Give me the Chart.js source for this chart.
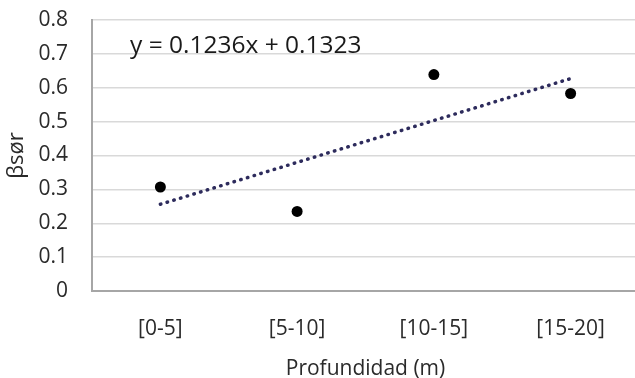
<!DOCTYPE html>
<html>
<head>
<meta charset="utf-8">
<script src="https://cdn.jsdelivr.net/npm/chart.js@4/dist/chart.umd.min.js"></script>
<style>
html,body{margin:0;padding:0;background:#fff;overflow:hidden;}
#wrap{position:absolute;left:0;top:0;width:639px;height:378px;}
</style>
</head>
<body>
<div id="wrap"><canvas id="c" width="639" height="378"></canvas></div>
<script>
const categories = ['[0-5]', '[5-10]', '[10-15]', '[15-20]'];
const betaValues = [0.307, 0.235, 0.639, 0.583];
const trendValues = [0.256, null, null, 0.627];
const yTickLabels = ['0', '0.1', '0.2', '0.3', '0.4', '0.5', '0.6', '0.7', '0.8'];
const equationText = 'y = 0.1236x + 0.1323';
const xTitle = 'Profundidad (m)';
const yTitle = 'βsør';

const FONT = 'Open Sans';
const TEXT = '#2a2a2a';

const equationPlugin = {
  id: 'equation',
  afterDatasetsDraw(chart) {
    const ctx = chart.ctx;
    ctx.save();
    ctx.font = '24.5px "' + FONT + '"';
    ctx.fillStyle = '#1a1a1a';
    ctx.textAlign = 'left';
    ctx.textBaseline = 'middle';
    ctx.fillText(equationText, 130, 46);
    ctx.restore();
  }
};

new Chart(document.getElementById('c'), {
  type: 'line',
  data: {
    labels: categories,
    datasets: [
      {
        label: 'βsør',
        data: betaValues,
        showLine: false,
        pointRadius: 5.5,
        pointHoverRadius: 5.5,
        pointBackgroundColor: '#000',
        pointBorderColor: '#000',
        pointBorderWidth: 0,
        order: 1
      },
      {
        label: 'trend',
        data: trendValues,
        spanGaps: true,
        pointRadius: 0,
        borderColor: '#2d2b5c',
        borderWidth: 3.5,
        borderDash: [0.5, 6.5],
        borderCapStyle: 'round',
        fill: false,
        tension: 0,
        order: 2
      }
    ]
  },
  options: {
    responsive: false,
    animation: false,
    devicePixelRatio: 1,
    layout: { autoPadding: false, padding: { left: 0, right: 0, top: 20, bottom: 0 } },
    plugins: { legend: { display: false }, tooltip: { enabled: false } },
    scales: {
      x: {
        offset: true,
        grid: { display: false, drawTicks: false },
        border: { display: true, color: '#a6a6a6', width: 2 },
        ticks: { color: TEXT, font: { family: FONT, size: 21 }, padding: 25, maxRotation: 0 },
        title: { display: true, text: xTitle, color: TEXT, font: { family: FONT, size: 21, lineHeight: 0.9 }, padding: { top: 0, bottom: 0 } },
        afterFit(scale) { scale.height = 87; scale.paddingLeft = 0; scale.paddingRight = 0; }
      },
      y: {
        min: 0,
        max: 0.8,
        ticks: {
          stepSize: 0.1,
          color: TEXT,
          font: { family: FONT, size: 21 },
          padding: 24,
          callback: (v, i) => yTickLabels[i]
        },
        grid: { color: '#d9d9d9', lineWidth: 1.5, drawTicks: false },
        border: { display: true, color: '#a6a6a6', width: 2 },
        title: { display: true, text: yTitle, color: TEXT, font: { family: FONT, size: 22 }, padding: { top: 4, bottom: 0 } },
        afterFit(scale) { scale.width = 92; scale.paddingTop = 0; scale.paddingBottom = 0; }
      }
    }
  },
  plugins: [equationPlugin]
});
</script>
</body>
</html>
